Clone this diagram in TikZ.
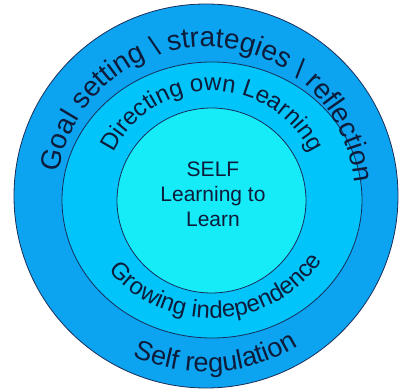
\documentclass[tikz,border=0pt]{standalone}
\usepackage{fontspec}
\setmainfont{Liberation Sans}
\usetikzlibrary{decorations.text,shapes.geometric}
\definecolor{outerblue}{RGB}{12,164,240}
\definecolor{midblue}{RGB}{0,196,250}
\definecolor{innercyan}{RGB}{22,235,248}
\definecolor{edge}{RGB}{25,45,90}
\definecolor{ink}{RGB}{12,28,58}
\begin{document}
\begin{tikzpicture}[x=1pt,y=1pt,
  ring/.style={draw=edge,line width=0.8pt,inner sep=0pt},
  curved/.style={decorate,decoration={text along path,text align=center,text={#1}}}]
\useasboundingbox (0,0) rectangle (399,391);
\fill[white] (0,0) rectangle (399,391);
\coordinate (oc) at (206,195);
\coordinate (mc) at (212,191);
\coordinate (ic) at (211.5,190.5);
\node[ring,fill=outerblue,circle,minimum size=384pt] (outer) at (oc) {};
\node[ring,fill=midblue,ellipse,minimum width=300pt,minimum height=276pt] (middle) at (mc) {};
\node[ring,fill=innercyan,ellipse,minimum width=189pt,minimum height=185pt] (inner) at (ic) {};
\node[text=ink,align=center,font=\fontsize{21}{25}\selectfont] (self) at (213,197) {SELF\\Learning to\\Learn};
\path[curved={|\fontsize{28}{32}\selectfont\color{ink}|Goal setting {\textbackslash} strategies {\textbackslash} reflection}]
  (oc) ++(178:149) arc[start angle=178,end angle=-2,radius=149];
\path[curved={|\fontsize{27}{31}\selectfont\color{ink}|Self regulation}]
  (oc) ++(210:176) arc[start angle=210,end angle=337,radius=176];
\path[curved={|\fontsize{24}{28}\selectfont\color{ink}|Directing own Learning}]
  (mc) ++(170:109) arc[start angle=170,end angle=10,radius=109];
\path[curved={|\fontsize{24}{28}\selectfont\color{ink}|Growing independence}]
  (mc) ++(200:128 and 118) arc[start angle=200,end angle=346,x radius=128,y radius=118];
\end{tikzpicture}
\end{document}
